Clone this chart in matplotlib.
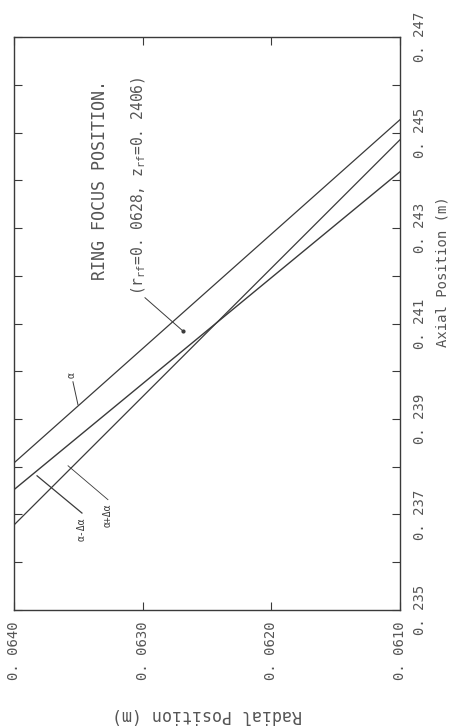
import numpy as np
import matplotlib
matplotlib.use('Agg')
import matplotlib.pyplot as plt

# radial (m) at the two plot edges, axial (m) of each ray there
r_ends = [0.0640, 0.0610]
z_alpha = [0.23808, 0.24527]
z_minus = [0.23752, 0.24418]   # alpha - d alpha
z_plus = [0.23678, 0.24485]    # alpha + d alpha

# ring focus marker
r_focus = 0.06269
z_focus = 0.24085

x_ticks = [0.0640, 0.0630, 0.0620, 0.0610]
x_labels = ['0. 0640', '0. 0630', '0. 0620', '0. 0610']
y_ticks = [0.235, 0.237, 0.239, 0.241, 0.243, 0.245, 0.247]
y_labels = ['0. 235', '0. 237', '0. 239', '0. 241', '0. 243', '0. 245', '0. 247']
y_minor = [0.236, 0.238, 0.240, 0.242, 0.244, 0.246]

mono = 'DejaVu Sans Mono'
ink = '#3a3a3a'
txt = '#555555'
plt.rcParams['font.family'] = mono
plt.rcParams['mathtext.fontset'] = 'custom'
plt.rcParams['mathtext.rm'] = mono
plt.rcParams['mathtext.default'] = 'regular'

fig = plt.figure(figsize=(4.52, 7.27), dpi=100)
ax = fig.add_axes([0.031, 0.161, 0.854, 0.788])

ax.plot(r_ends, z_alpha, color=ink, lw=0.9)
ax.plot(r_ends, z_minus, color=ink, lw=1.0)
ax.plot(r_ends, z_plus, color=ink, lw=0.9)
ax.plot([r_focus], [z_focus], 'o', color=ink, ms=2)

ax.set_xlim(0.0640, 0.0610)
ax.set_ylim(0.235, 0.247)

ax.set_xticks(x_ticks)
ax.set_xticklabels(x_labels)
ax.set_yticks(y_ticks)
ax.set_yticklabels(y_labels)
ax.set_yticks(y_minor, minor=True)

ax.tick_params(axis='x', which='both', direction='in', top=True, bottom=True,
               length=6, width=0.8, color=ink, labelcolor=txt, labelsize=10,
               labelrotation=90, pad=8)
ax.tick_params(axis='y', which='both', direction='in', left=True, right=True,
               labelleft=False, labelright=True, length=6, width=0.8, color=ink,
               labelcolor=txt, labelsize=10, labelrotation=90, pad=9)
for lab in ax.get_yticklabels():
    lab.set_va('center')
    lab.set_ha('left')

for s in ax.spines.values():
    s.set_color(ink)
    s.set_linewidth(1.0)

ax.set_xlabel('Radial Position (m)', rotation=180, fontsize=12, color=txt, va='center')
ax.xaxis.set_label_coords(0.5, -0.183)
ax.yaxis.set_label_position('right')
ax.set_ylabel('Axial Position (m)', rotation=90, fontsize=10, color=txt, va='center')
ax.yaxis.set_label_coords(1.109, 0.59)

# labels for the rays
ax.plot([0.063542, 0.063503], [0.23978, 0.23930], color=ink, lw=0.7)
ax.text(0.063550, 0.23985, '\u03b1', rotation=90, fontsize=7, color=ink,
        ha='center', va='bottom')
ax.plot([0.063472, 0.063821], [0.23703, 0.23781], color=ink, lw=0.9)
ax.text(0.063472, 0.23694, '\u03b1-\u0394\u03b1', rotation=90, fontsize=7,
        color=ink, ha='center', va='top')
ax.plot([0.063270, 0.063580], [0.23731, 0.23802], color=ink, lw=0.6)
ax.text(0.063270, 0.23722, '\u03b1+\u0394\u03b1', rotation=90, fontsize=7,
        color=ink, ha='center', va='top')

# ring focus annotation
ax.plot([0.062982, r_focus], [0.24154, z_focus], color=ink, lw=0.7)
ax.text(0.063330, 0.24401, 'RING FOCUS POSITION.', rotation=90, fontsize=12,
        color=txt, ha='center', va='center')
ax.text(0.063030, 0.24389, r'($r_{rf}$=0. 0628, $z_{rf}$=0. 2406)', rotation=90,
        fontsize=10.5, color=txt, ha='center', va='center')

fig.savefig('out.png', dpi=100)
